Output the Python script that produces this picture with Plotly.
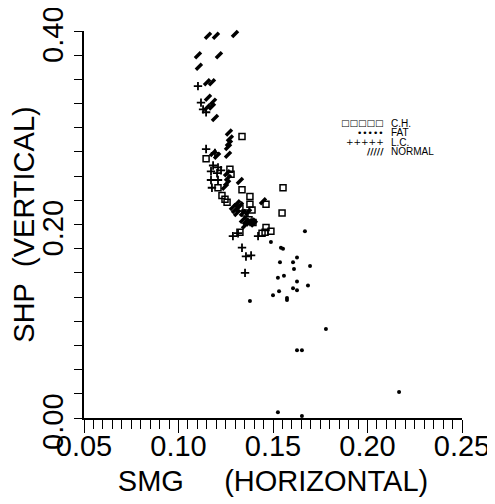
import plotly.graph_objects as go

# ---- data (SMG horizontal, SHP vertical) ----
ch_x = [0.1146, 0.1209, 0.1272, 0.1278, 0.1336, 0.1336, 0.1378, 0.1230, 0.1246, 0.1257,
        0.1378, 0.1389, 0.1352, 0.1325, 0.1463, 0.1553, 0.1548, 0.1373, 0.1394, 0.1463,
        0.1489, 0.1442, 0.1458, 0.1325]
ch_y = [0.268, 0.238, 0.257, 0.252, 0.291, 0.236, 0.229, 0.230, 0.226, 0.223,
        0.221, 0.215, 0.212, 0.217, 0.221, 0.238, 0.212, 0.205, 0.202, 0.197,
        0.193, 0.191, 0.192, 0.192]

fat_x = [0.1489, 0.1669, 0.1542, 0.1553, 0.1627, 0.1606, 0.1537, 0.1696, 0.1611, 0.1558,
         0.1526, 0.1627, 0.1606, 0.1627, 0.1685, 0.1532, 0.1500, 0.1574, 0.1378, 0.1574,
         0.1780, 0.1627, 0.1653, 0.2167, 0.1526, 0.1653]
fat_y = [0.182, 0.193, 0.176, 0.175, 0.166, 0.161, 0.161, 0.157, 0.154, 0.147,
         0.145, 0.141, 0.134, 0.132, 0.137, 0.131, 0.127, 0.124, 0.121, 0.122,
         0.092, 0.070, 0.070, 0.027, 0.006, 0.002]

lc_x = [0.1103, 0.1119, 0.1130, 0.1146, 0.1146, 0.1193, 0.1183, 0.1209, 0.1172, 0.1204,
        0.1225, 0.1172, 0.1209, 0.1177, 0.1288, 0.1315, 0.1421, 0.1336, 0.1357, 0.1384,
        0.1352]
lc_y = [0.343, 0.326, 0.319, 0.316, 0.278, 0.274, 0.261, 0.259, 0.255, 0.253,
        0.256, 0.246, 0.246, 0.238, 0.188, 0.191, 0.188, 0.176, 0.167, 0.168,
        0.150]

normal_x = [0.1156, 0.1198, 0.1299, 0.1103, 0.1214, 0.1108, 0.1151, 0.1177, 0.1156, 0.1183,
            0.1177, 0.1151, 0.1193, 0.1267, 0.1272, 0.1267, 0.1262, 0.1183, 0.1204, 0.1262,
            0.1257, 0.1262, 0.1257, 0.1246, 0.1325, 0.1310, 0.1325, 0.1288, 0.1315, 0.1299,
            0.1341, 0.1368, 0.1310, 0.1341, 0.1357, 0.1373, 0.1389, 0.1399, 0.1352, 0.1447]
normal_y = [0.395, 0.395, 0.397, 0.375, 0.375, 0.363, 0.347, 0.347, 0.331, 0.327,
            0.322, 0.321, 0.310, 0.295, 0.289, 0.284, 0.280, 0.274, 0.271, 0.272,
            0.253, 0.248, 0.243, 0.239, 0.245, 0.222, 0.220, 0.218, 0.217, 0.215,
            0.212, 0.213, 0.212, 0.205, 0.203, 0.202, 0.203, 0.201, 0.199, 0.224]

x_ticks = [0.05, 0.10, 0.15, 0.20, 0.25]
x_labels = ["0.05", "0.10", "0.15", "0.20", "0.25"]
y_ticks = [0.00, 0.20, 0.40]
y_labels = ["0.00", "0.20", "0.40"]

legend_rows = [("\u25a1\u25a1\u25a1\u25a1\u25a1", "C.H."),
               ("\u2022\u2022\u2022\u2022\u2022", "FAT"),
               ("+++++", "L.C."),
               ("<b>/////</b>", "NORMAL")]

FONT = "Liberation Sans, Arial, sans-serif"

fig = go.Figure()
fig.add_trace(go.Scatter(x=ch_x, y=ch_y, mode="markers", name="C.H.",
                         marker=dict(symbol="square-open", size=6, color="black",
                                     line=dict(width=1.5, color="black"))))
fig.add_trace(go.Scatter(x=fat_x, y=fat_y, mode="markers", name="FAT",
                         marker=dict(symbol="circle", size=4, color="black")))
fig.add_trace(go.Scatter(x=lc_x, y=lc_y, mode="markers", name="L.C.",
                         marker=dict(symbol="cross-thin", size=6, color="black",
                                     line=dict(width=1.8, color="black"))))
fig.add_trace(go.Scatter(x=normal_x, y=normal_y, mode="markers", name="NORMAL",
                         marker=dict(symbol="line-ne", size=6, color="black",
                                     line=dict(width=3.5, color="black"))))
fig.update_traces(cliponaxis=False)

# hand-drawn style legend as text
annotations = []
row_y = [0.762, 0.737, 0.713, 0.688]
for (glyphs, label), yy in zip(legend_rows, row_y):
    annotations.append(dict(xref="paper", yref="paper", x=0.80, y=yy, xanchor="right",
                            yanchor="middle", text=glyphs, showarrow=False,
                            font=dict(family="DejaVu Sans, " + FONT, size=9, color="black")))
    annotations.append(dict(xref="paper", yref="paper", x=0.807, y=yy, xanchor="left",
                            yanchor="middle", text=label, showarrow=False,
                            font=dict(family="Liberation Sans Narrow, Liberation Sans, Arial", size=10,
                                      color="black")))

# page body has an 8 px margin, so the figure is drawn 8 px smaller and offset
fig.update_layout(
    width=487, height=496,
    margin=dict(l=76, r=33, t=23, b=86, autoexpand=False),
    paper_bgcolor="white", plot_bgcolor="white",
    showlegend=False,
    font=dict(family=FONT, size=29, color="black"),
    annotations=annotations,
    xaxis=dict(range=[0.05, 0.25], tickvals=x_ticks, ticktext=x_labels,
               showgrid=False, zeroline=False, showline=True, linecolor="black",
               linewidth=1.5, ticks="outside", ticklen=13, tickwidth=1.2, tickcolor="black",
               minor=dict(dtick=0.005, ticks="outside", ticklen=9, tickwidth=1.2,
                          tickcolor="black", showgrid=False),
               tickfont=dict(size=29), ticklabelstandoff=-12, ticklabeloverflow="allow",
               title=dict(text="SMG\u00a0\u00a0\u00a0\u00a0\u00a0(HORIZONTAL)",
                          font=dict(size=29), standoff=10),
               automargin=False),
    yaxis=dict(range=[0, 0.40], tickvals=y_ticks, ticktext=y_labels,
               showgrid=False, zeroline=False, showline=True, linecolor="black",
               linewidth=1.5, ticks="outside", ticklen=8, tickwidth=1.2, tickcolor="black",
               minor=dict(dtick=0.025, ticks="outside", ticklen=8, tickwidth=1.2,
                          tickcolor="black", showgrid=False),
               tickangle=-90, tickfont=dict(size=29), ticklabeloverflow="allow",
               ticklabelshift=8,
               title=dict(text="SHP\u00a0\u00a0(VERTICAL)", font=dict(size=29), standoff=2),
               automargin=False),
)

fig.write_html("out.html")
